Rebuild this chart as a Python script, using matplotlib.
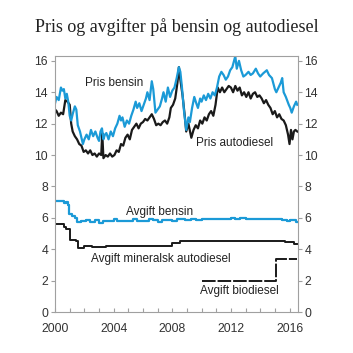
import matplotlib
matplotlib.use("Agg")
import matplotlib.pyplot as plt

# Pris bensin (kr/l)
ar_bensin = [2000.0, 2000.1, 2000.25, 2000.4, 2000.5, 2000.6, 2000.7, 2000.8, 2000.9, 2001.0,
             2001.1, 2001.2, 2001.35, 2001.45, 2001.55, 2001.7, 2001.8, 2001.9, 2002.0, 2002.15,
             2002.3, 2002.45, 2002.6, 2002.75, 2002.9, 2003.0, 2003.1, 2003.2, 2003.3, 2003.4,
             2003.5, 2003.65, 2003.8, 2003.95, 2004.1, 2004.25, 2004.4, 2004.5, 2004.6, 2004.75,
             2004.9, 2005.05, 2005.2, 2005.35, 2005.5, 2005.6, 2005.75, 2005.9, 2006.05, 2006.2,
             2006.3, 2006.45, 2006.6, 2006.7, 2006.85, 2007.0, 2007.15, 2007.3, 2007.4, 2007.55,
             2007.7, 2007.85, 2008.0, 2008.15, 2008.3, 2008.45, 2008.55, 2008.65, 2008.8, 2008.95,
             2009.1, 2009.2, 2009.35, 2009.5, 2009.6, 2009.75, 2009.9, 2010.0, 2010.15, 2010.3,
             2010.45, 2010.6, 2010.75, 2010.9, 2011.05, 2011.2, 2011.35, 2011.5, 2011.65, 2011.8,
             2011.95, 2012.1, 2012.3, 2012.4, 2012.55, 2012.7, 2012.85, 2013.0, 2013.2, 2013.35,
             2013.5, 2013.7, 2013.85, 2014.0, 2014.2, 2014.45, 2014.6, 2014.8, 2015.0, 2015.1,
             2015.25, 2015.4, 2015.5, 2015.6, 2015.75, 2015.95, 2016.05, 2016.15, 2016.3, 2016.45,
             2016.53]
pris_bensin = [13.3, 13.7, 13.5, 14.3, 14.1, 14.2, 13.6, 13.9, 13.4, 12.5,
               12.2, 12.6, 13.1, 12.9, 11.9, 11.5, 11.1, 10.7, 11.0, 11.3,
               11.0, 11.6, 11.2, 11.5, 11.1, 10.9, 11.5, 11.7, 11.0, 11.3,
               11.4, 11.0, 11.5, 11.2, 11.7, 12.0, 12.5, 12.2, 12.4, 11.8,
               12.2, 12.0, 12.5, 12.9, 13.4, 13.0, 13.3, 12.8, 13.2, 13.6,
               14.0, 13.5, 14.7, 14.2, 12.7, 12.9, 13.1, 13.6, 14.0, 13.4,
               14.3, 13.7, 14.1, 14.3, 14.9, 15.6, 15.3, 14.4, 12.8, 11.6,
               12.4, 12.1, 13.0, 13.7, 13.4, 13.0, 13.6, 13.4, 13.8, 13.5,
               13.9, 13.6, 14.0, 13.8, 14.3, 15.0, 15.3, 15.1, 14.8, 15.0,
               15.4, 15.6, 16.3, 15.5, 16.0, 15.4, 15.0, 15.1, 15.3, 15.1,
               15.2, 15.5, 15.2, 15.0, 15.2, 15.4, 15.1, 14.9, 14.2, 14.0,
               14.3, 14.6, 14.9, 14.0, 13.7, 13.2, 13.0, 12.7, 13.1, 13.4,
               13.2]

# Pris autodiesel (kr/l)
ar_diesel = [2000.0, 2000.1, 2000.25, 2000.4, 2000.55, 2000.7, 2000.85, 2001.0, 2001.1, 2001.2,
             2001.35, 2001.5, 2001.65, 2001.8, 2001.95, 2002.1, 2002.25, 2002.4, 2002.55, 2002.7,
             2002.85, 2003.0, 2003.15, 2003.22, 2003.3, 2003.45, 2003.6, 2003.75, 2003.9, 2004.05,
             2004.2, 2004.35, 2004.5, 2004.65, 2004.8, 2004.95, 2005.1, 2005.25, 2005.4, 2005.55,
             2005.7, 2005.85, 2006.0, 2006.15, 2006.3, 2006.45, 2006.6, 2006.75, 2006.9, 2007.05,
             2007.2, 2007.35, 2007.5, 2007.65, 2007.8, 2007.9, 2008.05, 2008.2, 2008.35, 2008.45,
             2008.55, 2008.7, 2008.85, 2008.95, 2009.1, 2009.3, 2009.45, 2009.6, 2009.75, 2009.9,
             2010.05, 2010.2, 2010.35, 2010.5, 2010.65, 2010.8, 2010.95, 2011.1, 2011.25, 2011.4,
             2011.55, 2011.7, 2011.85, 2012.0, 2012.15, 2012.3, 2012.45, 2012.6, 2012.75, 2012.9,
             2013.05, 2013.2, 2013.35, 2013.5, 2013.65, 2013.8, 2013.95, 2014.1, 2014.25, 2014.4,
             2014.55, 2014.7, 2014.85, 2015.0, 2015.15, 2015.3, 2015.45, 2015.6, 2015.75, 2015.9,
             2016.0, 2016.1, 2016.2, 2016.3, 2016.4, 2016.53]
pris_diesel = [12.9, 12.8, 12.5, 12.7, 12.6, 13.5, 13.4, 13.2, 12.0, 11.5,
               11.2, 11.0, 10.7, 10.6, 10.2, 10.3, 10.1, 10.3, 10.0, 10.1,
               9.9, 10.1, 10.0, 11.4, 9.8, 10.0, 9.9, 10.1, 9.9, 10.0,
               10.3, 10.2, 10.7, 10.6, 11.1, 11.3, 11.0, 11.6, 11.8, 12.0,
               11.7, 12.0, 12.1, 12.3, 12.2, 12.4, 12.6, 12.3, 11.9, 12.0,
               11.9, 12.1, 12.2, 12.0, 12.4, 13.0, 13.2, 13.6, 14.6, 15.6,
               14.8, 13.8, 12.5, 11.5, 12.0, 11.1, 11.6, 11.9, 11.7, 12.2,
               12.0, 12.4, 12.2, 12.6, 12.8, 12.5, 13.2, 14.3, 14.0, 14.3,
               14.0, 14.2, 14.4, 14.3, 14.0, 14.4, 14.1, 14.3, 13.8, 14.0,
               13.7, 14.0, 13.6, 13.9, 14.0, 13.7, 13.8, 13.6, 13.3, 13.5,
               13.2, 13.0, 12.6, 12.8, 12.4, 12.6, 12.3, 12.2, 11.9, 11.3,
               10.7, 11.6, 11.0, 11.5, 11.6, 11.5]

# Avgift bensin
ar_avg_bensin = [2000.0, 2000.6, 2000.75, 2000.85, 2000.95, 2001.15, 2001.35, 2001.5, 2001.8, 2002.1,
                 2002.4, 2002.7, 2003.0, 2003.3, 2003.7, 2004.0, 2004.2, 2005.0, 2005.3, 2005.6,
                 2006.0, 2006.4, 2006.7, 2007.0, 2007.3, 2007.7, 2008.0, 2008.3, 2008.9, 2009.3,
                 2009.6, 2010.0, 2010.5, 2011.0, 2011.5, 2012.0, 2012.3, 2012.6, 2013.0, 2013.4,
                 2014.0, 2014.4, 2015.0, 2015.5, 2015.8, 2016.0, 2016.3, 2016.45, 2016.53]
avgift_bensin = [7.05, 6.95, 7.0, 6.85, 6.25, 6.1, 6.0, 5.75, 5.8, 5.85,
                 5.75, 5.85, 5.7, 5.8, 5.8, 5.9, 5.8, 5.8, 5.9, 5.8,
                 5.8, 5.9, 5.85, 5.75, 5.85, 5.85, 5.8, 5.95, 5.85, 5.9,
                 5.85, 5.9, 5.9, 5.95, 5.95, 6.0, 5.95, 6.0, 5.95, 5.95,
                 5.95, 5.95, 5.9, 5.85, 5.8, 5.85, 5.85, 5.75, 5.75]

# Avgift mineralsk autodiesel
ar_avg_diesel = [2000.0, 2000.6, 2000.75, 2001.0, 2001.05, 2001.45, 2001.55, 2002.0, 2002.5, 2003.0,
                 2003.5, 2004.0, 2007.9, 2008.0, 2008.3, 2008.5, 2008.7, 2009.0, 2010.0, 2011.0,
                 2012.0, 2013.0, 2014.0, 2015.0, 2015.7, 2016.0, 2016.3, 2016.53]
avgift_diesel = [5.6, 5.4, 5.3, 5.2, 4.6, 4.5, 4.1, 4.2, 4.15, 4.15,
                 4.2, 4.2, 4.2, 4.4, 4.4, 4.55, 4.5, 4.5, 4.5, 4.5,
                 4.55, 4.55, 4.55, 4.5, 4.45, 4.45, 4.35, 4.35]

# Avgift biodiesel
ar_avg_bio = [2010.0, 2015.05, 2015.5, 2016.53]
avgift_bio = [2.0, 3.4, 3.35, 3.35]

blaa = "#1B9AD7"
svart = "#1a1a1a"
grå = "#a0a0a0"

plt.rcParams["font.family"] = ["Liberation Sans", "DejaVu Sans"]

fig = plt.figure(figsize=(3.53, 3.53), dpi=100)
ax = fig.add_axes([0.156, 0.116, 0.687, 0.725])

ax.plot(ar_diesel, pris_diesel, color=svart, lw=1.6)
ax.plot(ar_bensin, pris_bensin, color=blaa, lw=1.6)
ax.plot(ar_avg_diesel, avgift_diesel, color=svart, lw=1.4, drawstyle="steps-post")
ax.plot(ar_avg_bensin, avgift_bensin, color=blaa, lw=1.6, drawstyle="steps-post")
ax.plot(ar_avg_bio, avgift_bio, color=svart, lw=1.4, drawstyle="steps-post",
        dashes=(7, 1))

tekst = dict(fontsize=8.5, color="#222222", ha="center", va="center")
ax.text(2004.0, 14.6, "Pris bensin", **tekst)
ax.text(2012.25, 10.75, "Pris autodiesel", **tekst)
ax.text(2007.1, 6.4, "Avgift bensin", **tekst)
ax.text(2007.2, 3.38, "Avgift mineralsk autodiesel", **tekst)
ax.text(2012.6, 1.34, "Avgift biodiesel", **tekst)

ax.set_xlim(2000, 2016.55)
ax.set_ylim(0, 16.3)
ax.set_xticks([2000, 2004, 2008, 2012, 2016])
ax.set_xticks(range(2000, 2017), minor=True)
ax.set_yticks(range(0, 17, 2))

for s in ax.spines.values():
    s.set_color(grå)
    s.set_linewidth(0.8)

ax.tick_params(axis="y", which="both", direction="out", length=3, width=0.8,
               color=grå, left=True, right=True, labelleft=True, labelright=True,
               labelsize=8.8, labelcolor="#333333", pad=2)
ax.tick_params(axis="x", which="both", direction="in", length=3, width=0.8,
               color=grå, labelsize=8.8, labelcolor="#333333", pad=8)

fig.suptitle("Pris og avgifter på bensin og autodiesel", x=0.5, y=0.948,
             fontsize=13, family="Liberation Serif", color="#222222")

fig.savefig("out.png", dpi=100)
